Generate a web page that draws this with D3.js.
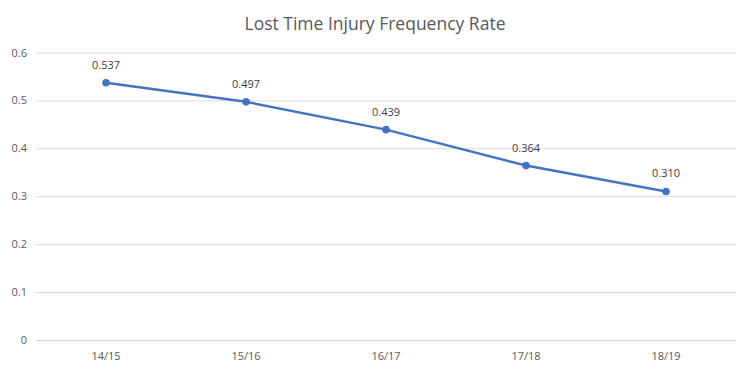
<!DOCTYPE html>
<html><head><meta charset="utf-8">
<script src="https://cdn.jsdelivr.net/npm/d3@7"></script>
<style>body{margin:0;background:#fff}</style>
</head><body>
<svg id="c" width="751" height="373"></svg>
<script>
const categories = ["14/15","15/16","16/17","17/18","18/19"];
const values = [0.537,0.497,0.439,0.364,0.310];
const labels = ["0.537","0.497","0.439","0.364","0.310"];
const yTicks = [0,0.1,0.2,0.3,0.4,0.5,0.6];
const yTickLabels = ["0","0.1","0.2","0.3","0.4","0.5","0.6"];

(function(){
const svg = d3.select("#c");
const font = "'Open Sans', 'Liberation Sans', sans-serif";
const mLeft = 36, mRight = 736, mTop = 52.5, mBottom = 340;
const x = d3.scaleBand().domain(categories).range([mLeft,mRight]);
const y = d3.scaleLinear().domain([0,0.6]).range([mBottom,mTop]);

svg.append("text").attr("x",375).attr("y",30).attr("text-anchor","middle")
  .attr("font-family",font).attr("font-size",17.5).attr("fill","#595959")
  .text("Lost Time  Injury Frequency Rate");

const yAxis = d3.axisLeft(y).tickValues(yTicks).tickFormat((d,i)=>yTickLabels[i]).tickSize(-(mRight-mLeft)).tickPadding(9);
const gy = svg.append("g").attr("transform",`translate(${mLeft},0)`).call(yAxis);
gy.select(".domain").remove();
gy.selectAll(".tick line").attr("stroke","#d9d9d9").attr("stroke-width",1);
gy.selectAll(".tick text").attr("font-family",font).attr("font-size",11).attr("fill","#595959");

const xAxis = d3.axisBottom(x).tickSize(0).tickPadding(12);
const gx = svg.append("g").attr("transform",`translate(0,${mBottom})`).call(xAxis);
gx.select(".domain").remove();
gx.selectAll(".tick text").attr("font-family",font).attr("font-size",11).attr("fill","#595959");

const cx = d => x(d) + x.bandwidth()/2;
const line = d3.line().x((d,i)=>cx(categories[i])).y(d=>y(d));
svg.append("path").datum(values).attr("d",line).attr("fill","none")
  .attr("stroke","#4472C4").attr("stroke-width",2.5).attr("stroke-linejoin","round");
svg.selectAll("circle.pt").data(values).join("circle").attr("class","pt")
  .attr("cx",(d,i)=>cx(categories[i])).attr("cy",d=>y(d)).attr("r",3.8).attr("fill","#4472C4");
svg.selectAll("text.lbl").data(values).join("text").attr("class","lbl")
  .attr("x",(d,i)=>cx(categories[i])).attr("y",d=>y(d)-14).attr("text-anchor","middle")
  .attr("font-family",font).attr("font-size",11).attr("fill","#404040")
  .text((d,i)=>labels[i]);
})();
</script>
</body></html>
